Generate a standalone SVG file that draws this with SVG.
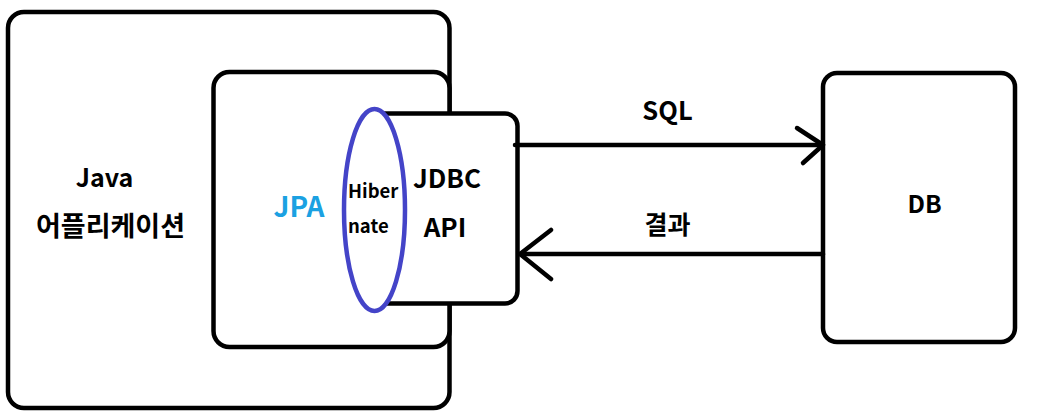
<svg xmlns="http://www.w3.org/2000/svg" width="1060" height="416" viewBox="0 0 1060 416">
  <style>
    .box { fill: #ffffff; stroke: #000000; stroke-width: 4.5; }
    .line { fill: none; stroke: #000000; stroke-width: 4.5; stroke-linecap: round; stroke-linejoin: round; }
    .t { font-family: "Noto Sans CJK KR", "Liberation Sans", sans-serif; font-weight: bold; fill: #000000; text-anchor: middle; }
  </style>
  <rect width="1060" height="416" fill="#ffffff"/>
  <g id="app">
    <rect class="box" x="8" y="12" width="441.5" height="396" rx="16"/>
    <text class="t" x="104.5" y="187" font-size="25">Java</text>
    <text class="t" x="110.5" y="236" font-size="27">어플리케이션</text>
  </g>
  <g id="jpa">
    <rect class="box" x="213.5" y="72" width="236" height="275" rx="16"/>
    <text class="t" x="299" y="217" font-size="28" style="fill:#1ba1e2">JPA</text>
  </g>
  <g id="jdbc">
    <path class="box" d="M374 113.5 H505 A12.5 12.5 0 0 1 517.5 126 V291 A12.5 12.5 0 0 1 505 303.5 H374"/>
    <text class="t" x="447" y="188" font-size="26">JDBC</text>
    <text class="t" x="445" y="237" font-size="26">API</text>
  </g>
  <g id="hibernate">
    <ellipse cx="374.5" cy="210" rx="30.5" ry="101" fill="#ffffff" stroke="#4444c8" stroke-width="4.5"/>
    <text class="t" x="348" y="198" font-size="18.5" style="text-anchor:start">Hiber</text>
    <text class="t" x="348" y="233" font-size="18.5" style="text-anchor:start">nate</text>
  </g>
  <g id="db">
    <rect class="box" x="823" y="73" width="192" height="269" rx="14"/>
    <text class="t" x="924.5" y="213" font-size="24.5">DB</text>
  </g>
  <g id="connectors">
    <path class="line" d="M515 145 H823"/>
    <path class="line" d="M797 128 L823 145 L803 163"/>
    <text class="t" x="667.5" y="120" font-size="25.5">SQL</text>
    <path class="line" d="M823 254 H520"/>
    <path class="line" d="M551 230 L520 254 L551 279"/>
    <text class="t" x="667.5" y="234" font-size="25">결과</text>
  </g>
</svg>
